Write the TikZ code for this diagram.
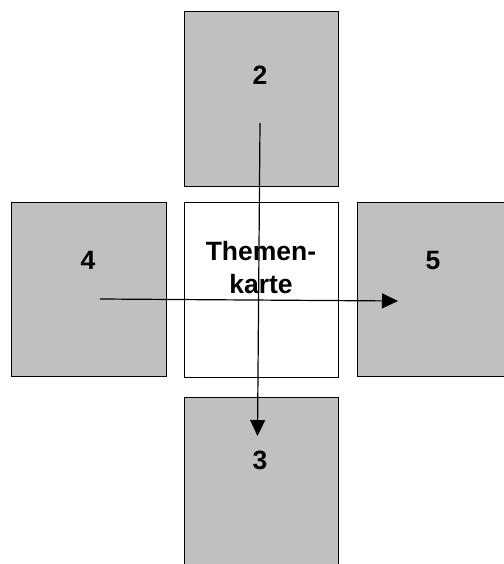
\documentclass[tikz,border=0pt]{standalone}
\usepackage{fontspec}
\setmainfont{Liberation Sans}
\usetikzlibrary{arrows.meta}
\definecolor{boxgray}{HTML}{C0C0C0}
\tikzset{
  card/.style={draw=black, line width=0.8bp, fill=boxgray, inner sep=0pt,
    minimum width=154.5bp, minimum height=174.5bp, anchor=north west},
  centercard/.style={card, fill=white},
  lbl/.style={font=\fontsize{26.5bp}{32.6bp}\selectfont\bfseries, inner sep=0pt, align=center},
  flow/.style={line width=1.2bp, -{Triangle[length=16bp,width=15bp]}}
}
\begin{document}
\begin{tikzpicture}[x=1bp,y=-1bp]
\useasboundingbox (0,0) rectangle (504,564);
\clip (0,0) rectangle (504,564);
\node[card] (top) at (183.7,11) {};
\node[card] (left) at (11,201.7) {};
\node[centercard] (center) at (183.5,202) {};
\node[card, minimum width=147bp] (right) at (356.7,201.7) {};
\node[card] (bottom) at (183.7,397) {};
\node[lbl] (l2) at (260,75) {2};
\node[lbl] (l4) at (88,260) {4};
\node[lbl] (l5) at (433,261) {5};
\node[lbl] (l3) at (260,460.5) {3};
\node[lbl, anchor=base] (lt) at (261,293.3) {Themen-\\karte};
\coordinate (vs) at (260,123);
\coordinate (ve) at (257.5,436);
\coordinate (hs) at (100,299);
\coordinate (he) at (398,301);
\draw[flow] (vs) -- (ve);
\draw[flow] (hs) -- (he);
\end{tikzpicture}
\end{document}
